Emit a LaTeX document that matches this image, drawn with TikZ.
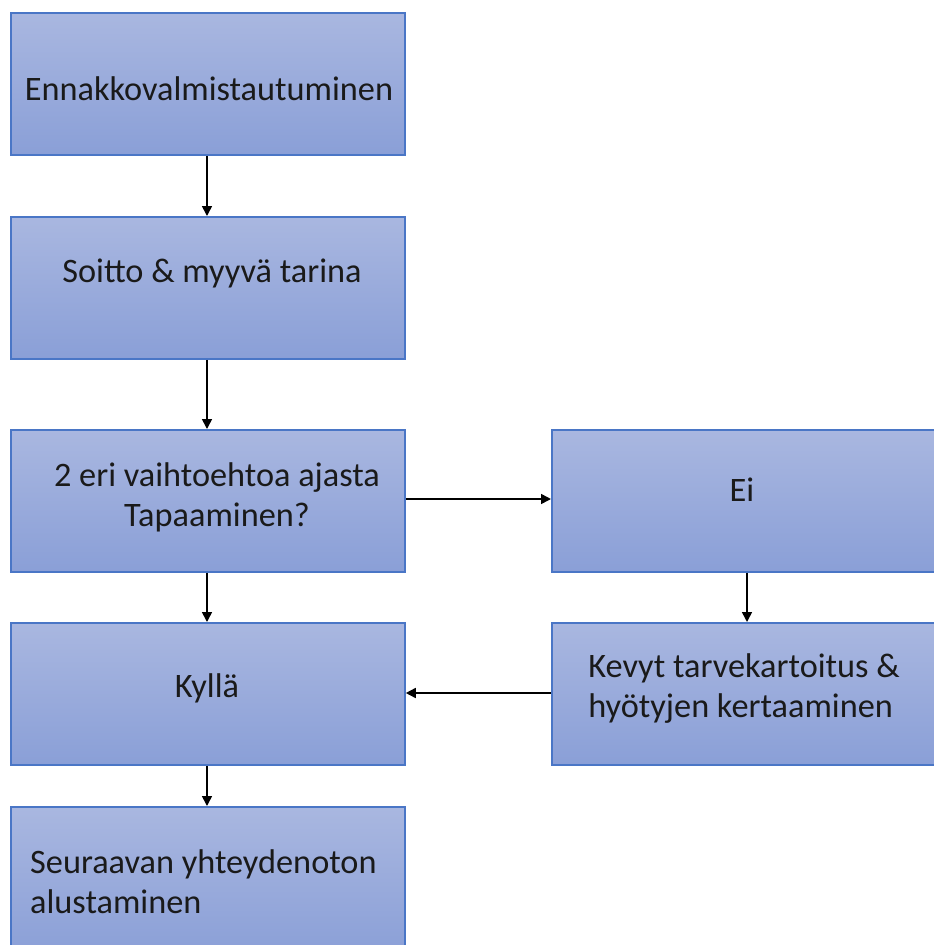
\documentclass[tikz,border=0pt]{standalone}
\usepackage{fontspec}
\setmainfont{Carlito}
\usetikzlibrary{arrows.meta}
\definecolor{boxtop}{HTML}{A9B7E0}
\definecolor{boxbot}{HTML}{8A9FD7}
\definecolor{boxline}{HTML}{4A76C6}
\definecolor{txt}{HTML}{1A1A1A}
\begin{document}
\begin{tikzpicture}[x=1pt,y=-1pt,
  flowbox/.style={draw=boxline,line width=1.8pt,top color=boxtop,bottom color=boxbot,
    minimum height=142pt,inner sep=0pt,anchor=north west},
  leftbox/.style={flowbox,minimum width=394pt},
  rightbox/.style={flowbox,minimum width=410pt},
  lbl/.style={font=\fontsize{34.3}{40}\selectfont,text=txt,inner sep=0pt},
  conn/.style={-{Triangle[length=10pt,width=10pt]},line width=1.6pt,black}]
\useasboundingbox (0,0) rectangle (934,945);
\node[leftbox] (b1) at (10,12) {};
\node[leftbox] (b2) at (10,216) {};
\node[leftbox] (b3) at (10,429) {};
\node[leftbox] (b4) at (10,622) {};
\node[leftbox,minimum height=150pt] (b5) at (10,806) {};
\node[rightbox] (r1) at (551,429) {};
\node[rightbox] (r2) at (551,622) {};
\node[lbl] (t1) at (209,89) {Ennakkovalmistautuminen};
\node[lbl] (t2) at (212,273) {Soitto \& myyvä tarina};
\node[lbl,align=center] (t3) at (217,497) {2 eri vaihtoehtoa ajasta\\Tapaaminen?};
\node[lbl] (t4) at (207,688) {Kyllä};
\node[lbl] (t5) at (742,490) {Ei};
\node[lbl,align=left] (t6) at (744,689) {Kevyt tarvekartoitus \&\\hyötyjen kertaaminen};
\node[lbl,align=left,anchor=west] (t7) at (30,882) {Seuraavan yhteydenoton\\alustaminen};
\draw[conn] (b1.south-|207,0) -- (b2.north-|207,0);
\draw[conn] (b2.south-|207,0) -- (b3.north-|207,0);
\draw[conn] (b3.south-|207,0) -- (b4.north-|207,0);
\draw[conn] (b4.south-|207,0) -- (b5.north-|207,0);
\draw[conn] (b3.east|-0,499) -- (r1.west|-0,499);
\draw[conn] (r1.south-|747,0) -- (r2.north-|747,0);
\draw[conn] (r2.west|-0,693) -- (b4.east|-0,693);
\end{tikzpicture}
\end{document}
